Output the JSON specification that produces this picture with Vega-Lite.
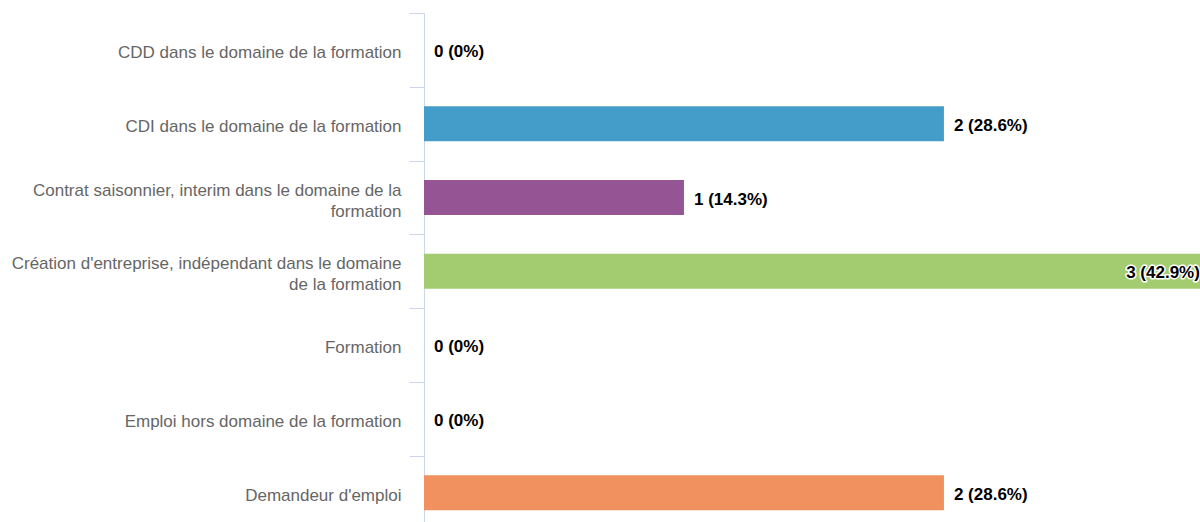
{
  "$schema": "https://vega.github.io/schema/vega-lite/v6.json",
  "width": 776,
  "height": 509,
  "autosize": {"type": "none"},
  "padding": {"left": 424, "top": 13, "right": 0, "bottom": 0},
  "background": "#ffffff",
  "config": {"view": {"stroke": null}, "font": "Liberation Sans"},
  "data": {
    "values": [
      {"cat": "CDD dans le domaine de la formation", "n": 0, "label": "0 (0%)", "color": "#7cb5ec"},
      {"cat": "CDI dans le domaine de la formation", "n": 2, "label": "2 (28.6%)", "color": "#449dc8"},
      {"cat": "Contrat saisonnier, interim dans le domaine de la formation", "n": 1, "label": "1 (14.3%)", "color": "#955594"},
      {"cat": "Création d'entreprise, indépendant dans le domaine de la formation", "n": 3, "label": "3 (42.9%)", "color": "#a3cc71"},
      {"cat": "Formation", "n": 0, "label": "0 (0%)", "color": "#f7a35c"},
      {"cat": "Emploi hors domaine de la formation", "n": 0, "label": "0 (0%)", "color": "#8085e9"},
      {"cat": "Demandeur d'emploi", "n": 2, "label": "2 (28.6%)", "color": "#f0915f"}
    ]
  },
  "encoding": {
    "y": {
      "field": "cat",
      "type": "nominal",
      "sort": null,
      "title": null,
      "scale": {"range": [0, 516.7], "paddingInner": 0.526, "paddingOuter": 0.263},
      "axis": {
        "bandPosition": 0,
        "tickOffset": -19.4,
        "labelOffset": {"condition": {"test": "datum.value == 'Contrat saisonnier, interim dans le domaine de la formation' || datum.value == \"Création d'entreprise, indépendant dans le domaine de la formation\"", "value": 12}, "value": 22},
        "domainColor": "#ccd6eb",
        "tickColor": "#ccd6eb",
        "tickSize": 15,
        "labelPadding": 8,
        "labelColor": "#666666",
        "labelFontSize": 17,
        "labelFont": "Liberation Sans",
        "labelLineHeight": 21,
        "labelLimit": 420,
        "labelExpr": "datum.value == 'Contrat saisonnier, interim dans le domaine de la formation' ? ['Contrat saisonnier, interim dans le domaine de la', 'formation'] : (datum.value == \"Création d'entreprise, indépendant dans le domaine de la formation\" ? ['Création d\\'entreprise, indépendant dans le domaine', 'de la formation'] : datum.value)"
      }
    },
    "x": {
      "field": "n",
      "type": "quantitative",
      "scale": {"domain": [0, 2.985], "nice": false, "zero": true},
      "axis": null
    }
  },
  "layer": [
    {
      "mark": {"type": "bar"},
      "encoding": {"color": {"field": "color", "type": "nominal", "scale": null}}
    },
    {
      "transform": [{"filter": "datum.n < 3"}],
      "mark": {"type": "text", "align": "left", "baseline": "middle", "dx": 10, "dy": 2, "fontSize": 17, "fontWeight": "bold", "font": "Liberation Sans", "color": "#000000"},
      "encoding": {"text": {"field": "label"}}
    },
    {
      "transform": [{"filter": "datum.n >= 3"}],
      "mark": {"type": "text", "align": "right", "baseline": "middle", "dx": -4, "dy": 2, "fontSize": 17, "fontWeight": "bold", "font": "Liberation Sans", "fill": "#ffffff", "stroke": "#ffffff", "strokeWidth": 3, "strokeJoin": "round"},
      "encoding": {"text": {"field": "label"}}
    },
    {
      "transform": [{"filter": "datum.n >= 3"}],
      "mark": {"type": "text", "align": "right", "baseline": "middle", "dx": -4, "dy": 2, "fontSize": 17, "fontWeight": "bold", "font": "Liberation Sans", "color": "#000000"},
      "encoding": {"text": {"field": "label"}}
    }
  ]
}
